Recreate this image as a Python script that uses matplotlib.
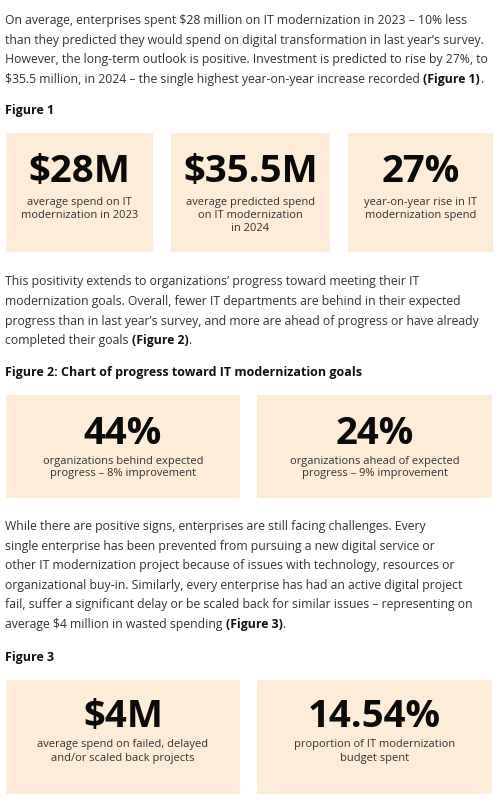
import matplotlib.pyplot as plt
from matplotlib.patches import Rectangle

plt.rcParams['font.family'] = ['Open Sans', 'DejaVu Sans']

# paragraph text: (normal part, bold part) per line
para1 = [
    ("On average, enterprises spent $28 million on IT modernization in 2023 \u2013 10% less", ""),
    ("than they predicted they would spend on digital transformation in last year\u2019s survey.", ""),
    ("However, the long-term outlook is positive. Investment is predicted to rise by 27%, to", ""),
    ("$35.5 million, in 2024 \u2013 the single highest year-on-year increase recorded ", "(Figure 1)"),
]
para2 = [
    ("This positivity extends to organizations\u2019 progress toward meeting their IT", ""),
    ("modernization goals. Overall, fewer IT departments are behind in their expected", ""),
    ("progress than in last year\u2019s survey, and more are ahead of progress or have already", ""),
    ("completed their goals ", "(Figure 2)"),
]
para3 = [
    ("While there are positive signs, enterprises are still facing challenges. Every", ""),
    ("single enterprise has been prevented from pursuing a new digital service or", ""),
    ("other IT modernization project because of issues with technology, resources or", ""),
    ("organizational buy-in. Similarly, every enterprise has had an active digital project", ""),
    ("fail, suffer a significant delay or be scaled back for similar issues \u2013 representing on", ""),
    ("average $4 million in wasted spending ", "(Figure 3)"),
]
headings = ["Figure 1", "Figure 2: Chart of progress toward IT modernization goals", "Figure 3"]

fig1_values = ["$28M", "$35.5M", "27%"]
fig1_labels = [["average spend on IT", "modernization in 2023"],
               ["average predicted spend", "on IT modernization", "in 2024"],
               ["year-on-year rise in IT", "modernization spend"]]
fig2_values = ["44%", "24%"]
fig2_labels = [["organizations behind expected", "progress \u2013 8% improvement"],
               ["organizations ahead of expected", "progress \u2013 9% improvement"]]
fig3_values = ["$4M", "14.54%"]
fig3_labels = [["average spend on failed, delayed", "and/or scaled back projects"],
               ["proportion of IT modernization", "budget spent"]]

W, H = 500, 802
fig = plt.figure(figsize=(W / 100, H / 100), dpi=100)
ax = fig.add_axes([0, 0, 1, 1])
ax.set_xlim(0, W)
ax.set_ylim(H, 0)
ax.axis('off')
renderer = fig.canvas.get_renderer()

text_col = '#333333'
box_col = '#fdecd8'
body_size = 8.87
cap_size = 8.0


def paragraph(lines, centers):
    for (normal, bold), c in zip(lines, centers):
        y = c + 3.4
        t = ax.text(5, y, normal, fontsize=body_size, color=text_col, va='baseline', ha='left')
        if bold:
            x1 = t.get_window_extent(renderer).x1
            b = ax.text(x1, y, bold, fontsize=body_size, color='#111111', va='baseline',
                        ha='left', fontweight='bold')
            x2 = b.get_window_extent(renderer).x1
            ax.text(x2, y, ".", fontsize=body_size, color=text_col, va='baseline', ha='left')


def heading(txt, c):
    ax.text(5, c + 3.6, txt, fontsize=9.0, fontweight='bold', color='#111111', va='baseline')


def boxes(xs, y0, y1, values, labels, num_base, lab_centers):
    for (xa, xb), v, lab in zip(xs, values, labels):
        ax.add_patch(Rectangle((xa, y0), xb - xa, y1 - y0, facecolor=box_col, edgecolor='none'))
        cx = (xa + xb) / 2
        ax.text(cx, num_base, v, fontsize=27.6, fontweight='bold', color='#0a0a0a',
                ha='center', va='baseline')
        for line, c in zip(lab, lab_centers):
            ax.text(cx, c + 3.0, line, fontsize=cap_size, color=text_col, ha='center',
                    va='baseline')


paragraph(para1, [21, 41, 60, 80])
heading(headings[0], 110)
boxes([(6, 153), (171, 330), (348, 493)], 133, 252, fig1_values, fig1_labels, 182, [202, 215, 228])

paragraph(para2, [282, 302, 322, 341])
heading(headings[1], 372)
boxes([(6, 240), (257, 492)], 395, 498, fig2_values, fig2_labels, 444, [461, 473])

paragraph(para3, [527, 547, 566, 586, 605, 625])
heading(headings[2], 657)
boxes([(6, 240), (257, 492)], 680, 794, fig3_values, fig3_labels, 727, [744, 758])

fig.savefig('out.png', dpi=100, facecolor='white')
